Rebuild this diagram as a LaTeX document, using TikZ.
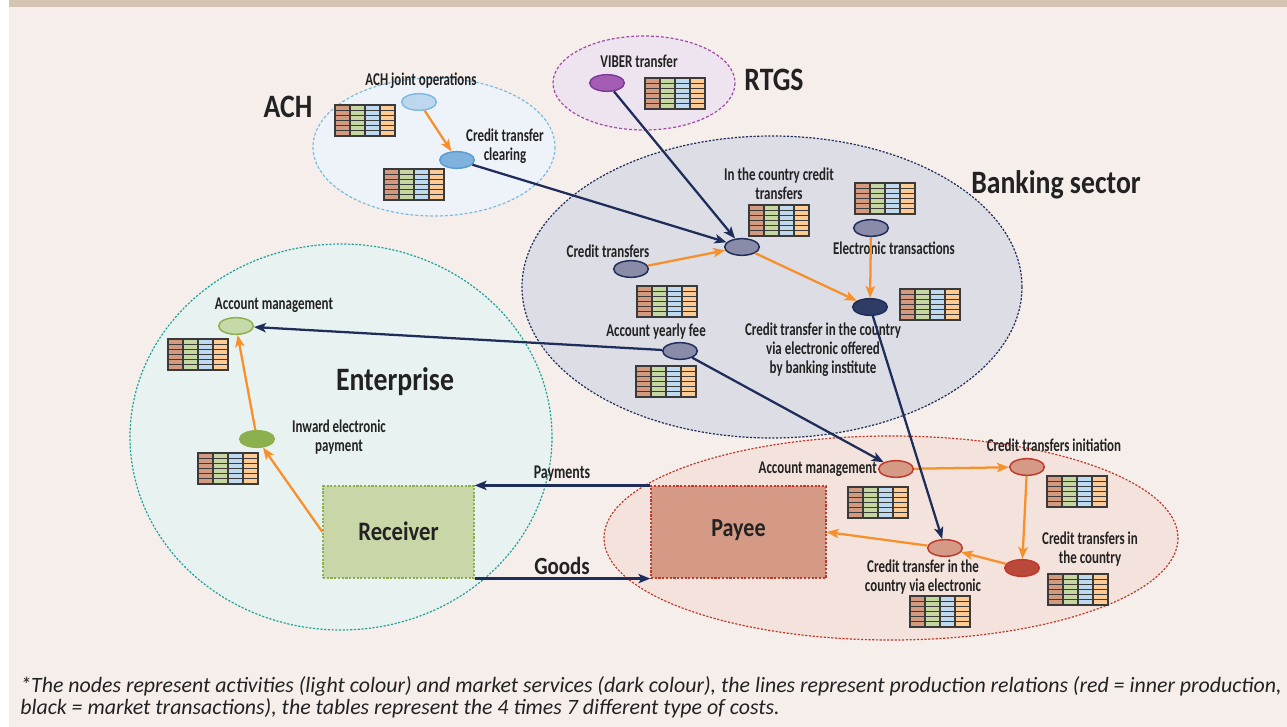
\documentclass[tikz,border=0pt]{standalone}
\usepackage{fontspec}
\setmainfont{Carlito}[FakeStretch=0.85]
\newfontfamily\lblfont{Carlito}[FakeStretch=0.72]
\newfontfamily\footfont{Carlito}
\usetikzlibrary{arrows.meta,shapes.geometric}
\definecolor{bgpink}{HTML}{F6EEEB}
\definecolor{tanbar}{HTML}{D5C4B3}
\definecolor{achfill}{HTML}{EEF3F9}
\definecolor{achline}{HTML}{7DB9E0}
\definecolor{rtgsfill}{HTML}{EEE4EF}
\definecolor{rtgsline}{HTML}{9E4BA8}
\definecolor{bankfill}{HTML}{DCDDE5}
\definecolor{navy}{HTML}{1F2D5A}
\definecolor{entfill}{HTML}{E8F2F1}
\definecolor{entline}{HTML}{1FA39A}
\definecolor{payfill}{HTML}{F4E3DC}
\definecolor{payline}{HTML}{C0392B}
\definecolor{orng}{HTML}{F7902A}
\definecolor{tc1}{HTML}{D49A80}
\definecolor{tc2}{HTML}{C5D6A0}
\definecolor{tc3}{HTML}{BFD9EE}
\definecolor{tc4}{HTML}{FFCB94}
\definecolor{tline}{HTML}{3A3A3A}
\definecolor{txt}{HTML}{222222}
\definecolor{achlight}{HTML}{BDD7EE}
\definecolor{achmid}{HTML}{7FB2DC}
\definecolor{achbd}{HTML}{5B9BD5}
\definecolor{viber}{HTML}{A45DB3}
\definecolor{viberbd}{HTML}{7D3C98}
\definecolor{banknode}{HTML}{8A8BA8}
\definecolor{bankdark}{HTML}{2E3C66}
\definecolor{grlight}{HTML}{C6D9A8}
\definecolor{grdark}{HTML}{8DB04E}
\definecolor{grbd}{HTML}{8DB04E}
\definecolor{rclight}{HTML}{D49A85}
\definecolor{rcdark}{HTML}{B94A3A}
\definecolor{rcbd}{HTML}{C0392B}
\definecolor{recfill}{HTML}{C8D6A8}
\definecolor{payeefill}{HTML}{D49A85}
\tikzset{
  actnode/.style={ellipse, minimum width=26pt, minimum height=12.5pt, inner sep=0pt, line width=1.1pt},
  lbl/.style={font=\lblfont\fontsize{13.5pt}{14.2pt}\selectfont\bfseries, text=txt, inner sep=0pt, align=center},
  biglbl/.style={font=\fontsize{24.5pt}{27pt}\selectfont\bfseries, text=txt, inner sep=0pt},
  boxlbl/.style={font=\fontsize{20pt}{22pt}\selectfont\bfseries, text=txt, inner sep=0pt},
  navyarr/.style={draw=navy, line width=1.7pt, -{Stealth[length=9pt, width=7pt, inset=2.2pt]}},
  orarr/.style={draw=orng, line width=1.7pt, -{Stealth[length=9pt, width=7pt, inset=2.2pt]}},
  costtab/.pic={
    \fill[tc1] (0,0) rectangle (15,31);
    \fill[tc2] (15,0) rectangle (30,31);
    \fill[tc3] (30,0) rectangle (45,31);
    \fill[tc4] (45,0) rectangle (60,31);
    \foreach \r in {1,...,5} \draw[tline, line width=0.6pt] (0,{\r*31/6}) -- (60,{\r*31/6});
    \foreach \c in {15,30,45} \draw[tline, line width=0.8pt] (\c,0) -- (\c,31);
    \draw[tline, line width=1pt] (0,0) rectangle (60,31);
  }
}
\begin{document}
\begin{tikzpicture}[x=0.75pt,y=-0.75pt]
\useasboundingbox (0,0) rectangle (1287,727);
\fill[white] (0,0) rectangle (1287,727);
\fill[bgpink] (9,7) rectangle (1287,727);
\fill[tanbar] (9,0) rectangle (1287,7);

% regions
\draw[fill=entfill, draw=entline, line width=0.9pt, dash pattern=on 1.6pt off 1.2pt] (341,437) ellipse [x radius=211, y radius=193];
\draw[fill=payfill, draw=payline, line width=0.9pt, dash pattern=on 1.6pt off 1.2pt] (891,538) ellipse [x radius=287, y radius=102];
\draw[fill=bankfill, draw=navy, line width=0.9pt, dash pattern=on 1.6pt off 1.2pt] (772,287) ellipse [x radius=250, y radius=151];
\draw[fill=achfill, draw=achline, line width=0.9pt, dash pattern=on 2.2pt off 1.5pt] (434,147) ellipse [x radius=121, y radius=69];
\draw[fill=rtgsfill, draw=rtgsline, line width=0.9pt, dash pattern=on 2.2pt off 1.5pt] (644,83) ellipse [x radius=91, y radius=47];

\node[biglbl] (tach) at (288,107) {ACH};
\node[biglbl] (trtgs) at (774,80) {RTGS};
\node[biglbl] (tbank) at (1056,185) {Banking sector};
\node[biglbl] (tent) at (395,382) {Enterprise};

% tables
\pic (t1) at (335,105) {costtab};
\pic (t2) at (384,169) {costtab};
\pic (t3) at (645,78) {costtab};
\pic (t4) at (749,205) {costtab};
\pic (t5) at (855,183) {costtab};
\pic (t6) at (637,286) {costtab};
\pic (t7) at (900,289) {costtab};
\pic (t8) at (636,366) {costtab};
\pic (t9) at (168,339) {costtab};
\pic (t10) at (198,453) {costtab};
\pic (t11) at (848,487) {costtab};
\pic (t12) at (1047,476) {costtab};
\pic (t13) at (1048,574) {costtab};
\pic (t14) at (910,596) {costtab};

% boxes
\node[draw=grbd, fill=recfill, line width=0.9pt, dash pattern=on 1.6pt off 1.2pt, minimum width=113.25pt, minimum height=69pt, inner sep=0pt] (receiver) at (398.5,532) {};
\node[boxlbl] (treceiver) at (398.5,531) {Receiver};
\node[draw=payline, fill=payeefill, line width=0.9pt, dash pattern=on 1.6pt off 1.2pt, minimum width=131.25pt, minimum height=69pt, inner sep=0pt] (payee) at (738.5,532) {};
\node[boxlbl, font=\fontsize{19.5pt}{22pt}\selectfont\bfseries] (tpayee) at (738.5,530) {Payee};

% activity nodes
\node[actnode, fill=achlight, draw=achline] (achjo) at (419,102) {};
\node[actnode, fill=achmid, draw=achbd] (ctc) at (457,160) {};
\node[actnode, fill=viber, draw=viberbd] (viber) at (607,83) {};
\node[actnode, fill=banknode, draw=navy] (hub) at (742,247) {};
\node[actnode, fill=banknode, draw=navy] (ct) at (631,269) {};
\node[actnode, fill=banknode, draw=navy] (et) at (871,228) {};
\node[actnode, fill=bankdark, draw=navy] (cto) at (870,307) {};
\node[actnode, fill=banknode, draw=navy] (ayf) at (680,351) {};
\node[actnode, fill=grlight, draw=grbd] (eam) at (236,326) {};
\node[actnode, fill=grdark, draw=grbd] (iep) at (257,439) {};
\node[actnode, fill=rclight, draw=rcbd] (pam) at (896,469) {};
\node[actnode, fill=rclight, draw=rcbd] (cti) at (1027,467) {};
\node[actnode, fill=rcdark, draw=rcbd] (ctic) at (1022,568) {};
\node[actnode, fill=rclight, draw=rcbd] (ctve) at (945,548) {};

% labels
\node[lbl] (lachjo) at (421,81) {ACH joint operations};
\node[lbl] (lctc) at (505,146) {Credit transfer\\clearing};
\node[lbl] (lviber) at (639,61) {VIBER transfer};
\node[lbl] (lhub) at (779,184) {In the country credit\\transfers};
\node[lbl] (lct) at (608,251) {Credit transfers};
\node[lbl] (let) at (894,248) {Electronic transactions};
\node[lbl] (lcto) at (823,350) {Credit transfer in the country\\via electronic offered\\by banking institute};
\node[lbl] (layf) at (656,332) {Account yearly fee};
\node[lbl] (leam) at (274,305) {Account management};
\node[lbl] (liep) at (339,437) {Inward electronic\\payment};
\node[lbl, anchor=east] (lpam) at (877,469) {Account management};
\node[lbl] (lcti) at (1054,445) {Credit transfers initiation};
\node[lbl] (lctic) at (1090,549) {Credit transfers in\\the country};
\node[lbl] (lctve) at (923,577) {Credit transfer in the\\country via electronic};
\node[lbl, font=\lblfont\fontsize{14.5pt}{15pt}\selectfont\bfseries] (lpay) at (562,474) {Payments};
\node[boxlbl, font=\fontsize{18.5pt}{20pt}\selectfont\bfseries] (lgoods) at (562,566) {Goods};

% orange arrows
\draw[orarr] (achjo) -- (ctc);
\draw[orarr] (ct) -- (hub);
\draw[orarr] (hub) -- (cto);
\draw[orarr] (et) -- (cto);
\draw[orarr] (iep) -- (eam);
\draw[orarr] (receiver.west) -- (iep);
\draw[orarr] (pam) -- (cti);
\draw[orarr] (cti) -- (ctic);
\draw[orarr] (ctic) -- (ctve);
\draw[orarr] (ctve) -- (payee.east);

% navy arrows
\draw[navyarr] (ctc) -- (hub);
\draw[navyarr] (viber) -- (hub);
\draw[navyarr] (ayf) -- (eam);
\draw[navyarr] (ayf) -- (pam);
\draw[navyarr] (cto) -- (ctve);
\draw[navyarr] (payee.north west) -- (receiver.north east);
\draw[navyarr] (receiver.south east) -- (payee.south west);

% footer
\node[anchor=west, inner sep=0pt, text=txt, font=\footfont\itshape\fontsize{16.4pt}{18pt}\selectfont] (foot1) at (20,686) {*The nodes represent activities (light colour) and market services (dark colour), the lines represent production relations (red = inner production,};
\node[anchor=west, inner sep=0pt, text=txt, font=\footfont\itshape\fontsize{16.4pt}{18pt}\selectfont] (foot2) at (20,708) {black = market transactions), the tables represent the 4 times 7 different type of costs.};
\end{tikzpicture}
\end{document}
